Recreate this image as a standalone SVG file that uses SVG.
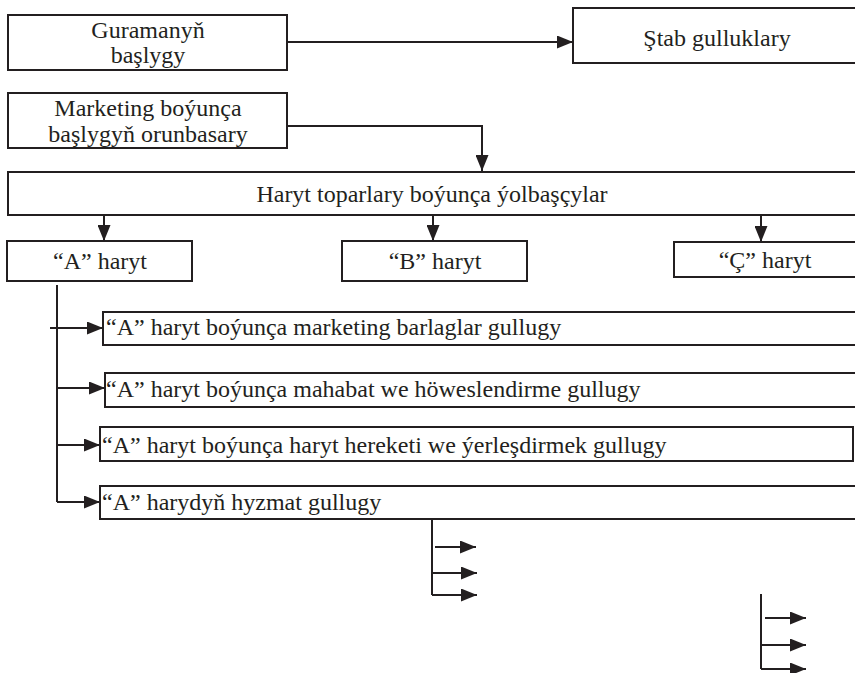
<svg xmlns="http://www.w3.org/2000/svg" width="855" height="673" viewBox="0 0 855 673">
<defs>
<marker id="ah" markerWidth="16" markerHeight="13" refX="16" refY="6.5" orient="auto" markerUnits="userSpaceOnUse">
<path d="M0,0 L16,6.5 L0,13 Z" fill="#231f20"/>
</marker>
<style>
.box{fill:#fff;stroke:#231f20;stroke-width:2}
.t{font-family:"Liberation Serif","Times New Roman",serif;font-size:24px;fill:#231f20}
.c{text-anchor:middle}
.ln{fill:none;stroke:#231f20;stroke-width:2}
.ar{fill:none;stroke:#231f20;stroke-width:2;marker-end:url(#ah)}
</style>
</defs>
<rect width="855" height="673" fill="#fff"/>
<g id="n-guramanyn">
<rect class="box" x="8" y="15" width="279" height="55"/>
<text class="t c" x="148" y="38">Guramanyň</text>
<text class="t c" x="148" y="63">başlygy</text>
</g>
<g id="n-stab">
<rect class="box" x="573" y="8" width="290" height="55"/>
<text class="t c" x="717" y="46">Ştab gulluklary</text>
</g>
<g id="n-marketing">
<rect class="box" x="8" y="93" width="279" height="55"/>
<text class="t c" x="148" y="116">Marketing boýunça</text>
<text class="t c" x="148" y="142">başlygyň orunbasary</text>
</g>
<g id="n-haryt-toparlary">
<rect class="box" x="8" y="172" width="855" height="43"/>
<text class="t c" x="432" y="202">Haryt toparlary boýunça ýolbaşçylar</text>
</g>
<g id="n-a">
<rect class="box" x="7" y="241" width="185" height="40"/>
<text class="t c" x="100" y="269">“A” haryt</text>
</g>
<g id="n-b">
<rect class="box" x="342" y="241" width="185" height="40"/>
<text class="t c" x="435" y="269">“B” haryt</text>
</g>
<g id="n-c">
<rect class="box" x="674" y="242" width="190" height="35"/>
<text class="t c" x="765" y="268">“Ç” haryt</text>
</g>
<g id="n-a1">
<rect class="box" x="103" y="312" width="760" height="33"/>
<text class="t" x="106" y="335">“A” haryt boýunça marketing barlaglar gullugy</text>
</g>
<g id="n-a2">
<rect class="box" x="105" y="373" width="760" height="34"/>
<text class="t" x="106" y="397">“A” haryt boýunça mahabat we höweslendirme gullugy</text>
</g>
<g id="n-a3">
<rect class="box" x="100" y="427" width="753" height="34"/>
<text class="t" x="102" y="453">“A” haryt boýunça haryt hereketi we ýerleşdirmek gullugy</text>
</g>
<g id="n-a4">
<rect class="box" x="100" y="486" width="765" height="33"/>
<text class="t" x="102" y="510">“A” harydyň hyzmat gullugy</text>
</g>
<g id="connectors">
<path class="ar" d="M287,42 H573"/>
<path class="ar" d="M287,126 H482 V171"/>
<path class="ar" d="M104,215 V241"/>
<path class="ar" d="M433,215 V241"/>
<path class="ar" d="M761,215 V242"/>
<path class="ln" d="M57,285 V502"/>
<path class="ar" d="M50,328 H103"/>
<path class="ar" d="M57,388 H105"/>
<path class="ar" d="M57,445 H100"/>
<path class="ar" d="M57,502 H100"/>
<path class="ln" d="M432,520 V595"/>
<path class="ar" d="M435,547 H476"/>
<path class="ar" d="M432,573 H477"/>
<path class="ar" d="M432,595 H477"/>
<path class="ln" d="M761,594 V669"/>
<path class="ar" d="M765,618 H806"/>
<path class="ar" d="M761,645 H806"/>
<path class="ar" d="M761,669 H806"/>
</g>
</svg>
